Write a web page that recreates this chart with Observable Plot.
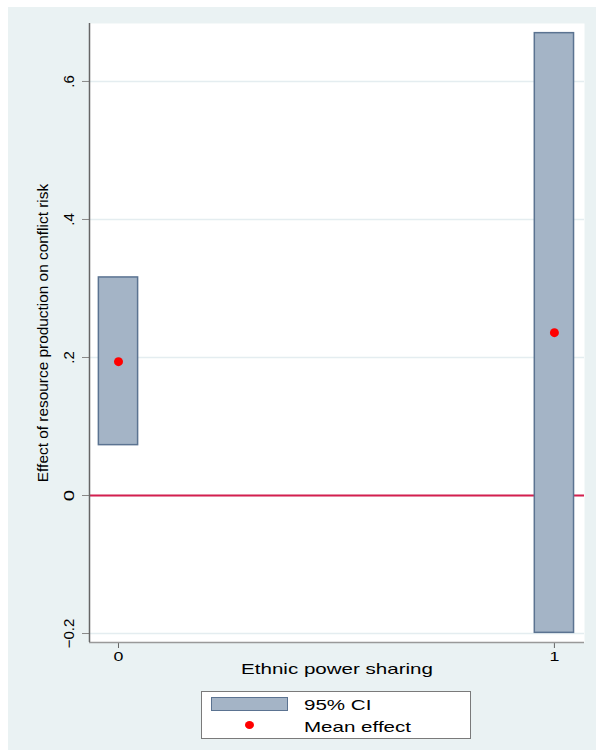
<!DOCTYPE html>
<html><head><meta charset="utf-8">
<script src="https://cdn.jsdelivr.net/npm/d3@7"></script>
<script src="https://cdn.jsdelivr.net/npm/@observablehq/plot@0.6"></script>
<style>
body{margin:0;background:#fff;font-family:"Liberation Sans",Arial,sans-serif;}
#wrap{position:relative;width:596px;height:754px;overflow:hidden;}
#bg{position:absolute;left:8px;top:7px;width:588px;height:743px;background:#eaf2f3;}
#chart{position:absolute;left:0;top:0;}
#legend{position:absolute;left:201px;top:691px;width:270px;height:48px;box-sizing:border-box;border:1.5px solid #7a7a7a;background:#fff;}
#legend .sw{position:absolute;left:8.5px;top:4.5px;width:77px;height:14px;box-sizing:border-box;background:#a4b4c6;border:1px solid #5b7391;}
#legend .dot{position:absolute;width:9px;height:8px;border-radius:50%;background:#ff0000;}
#legend .lt{position:absolute;left:101.5px;font-size:15px;line-height:15px;color:#000;white-space:nowrap;transform-origin:0 50%;}
</style>
</head><body>
<div id="wrap"><div id="bg"></div><div id="chart"></div><div id="legend"></div></div>
<script>
// ---- data ----
const groups = [0, 1];
const ciLow = [0.073, -0.199];
const ciHigh = [0.316, 0.670];
const means = [0.194, 0.236];
const yTicks = [-0.2, 0, 0.2, 0.4, 0.6];
const xTicks = [0, 1];
const xLabel = "Ethnic power sharing";
const yLabel = "Effect of resource production on conflict risk";
const legendLabels = ["95% CI", "Mean effect"];

const xDomain = [-0.0665, 1.069];
const yDomain = [-0.213, 0.684];
const hw = 0.045;
const stretch = 1.37;

const rows = groups.map((g, i) => ({g, lo: ciLow[i], hi: ciHigh[i], m: means[i]}));
const fmt = d => d === 0 ? "0" : d3.format(".1f")(d).replace(/^(-?)0\./, "$1.");

const plot = Plot.plot({
  width: 596, height: 690,
  marginLeft: 89, marginRight: 12, marginTop: 23, marginBottom: 48,
  style: {background: "transparent", fontFamily: "Liberation Sans, Arial, sans-serif", color: "#000", overflow: "visible"},
  x: {domain: xDomain},
  y: {domain: yDomain},
  marks: [
    Plot.frame({fill: "#fff"}),
    Plot.gridY(yTicks, {stroke: "#e4edf0", strokeOpacity: 1, strokeWidth: 1.5}),
    Plot.ruleY([0], {stroke: "#d41f4f", strokeWidth: 2}),
    Plot.rect(rows, {x1: d => d.g - hw, x2: d => d.g + hw, y1: "lo", y2: "hi", fill: "#a4b4c6", stroke: "#5b7391", strokeWidth: 1.5}),
    Plot.dot(rows, {x: "g", y: "m", r: 4.5, fill: "#ff0000", stroke: null}),
    Plot.axisY(yTicks, {anchor: "left", tickSize: 7, tickPadding: 9, tickRotate: -90, tickFormat: fmt, fontSize: 15, stroke: "#888", fill: "#000", label: null}),
    Plot.axisX(xTicks, {anchor: "bottom", tickSize: 6, tickPadding: 3, fontSize: 13, tickFormat: d => String(d), stroke: "#666", fill: "#000", label: null}),
    Plot.ruleY([yDomain[0]], {stroke: "#999", strokeWidth: 1.5}),
    Plot.ruleX([xDomain[0]], {stroke: "#666", strokeWidth: 1.5}),
    Plot.text([yLabel], {frameAnchor: "left", textAnchor: "middle", rotate: -90, dx: -46, fontSize: 15.4, fill: "#000", text: d => d}),
    Plot.text([xLabel], {frameAnchor: "bottom", dy: 31, fontSize: 15, fill: "#000", text: d => d})
  ]
});
document.getElementById("chart").appendChild(plot);

// horizontal stretch of horizontal texts to match reference proportions
d3.select(plot).selectAll("text").each(function() {
  const t = this.textContent;
  if (t === xLabel || xTicks.map(String).includes(t)) {
    const b = this.getBBox();
    const cx = b.x + b.width / 2;
    const ex = this.getAttribute("transform") || "";
    this.setAttribute("transform", `${ex} translate(${cx},0) scale(${stretch},1) translate(${-cx},0)`);
  }
});

// legend
const leg = document.getElementById("legend");
const sw = document.createElement("div"); sw.className = "sw"; leg.appendChild(sw);
const dot = document.createElement("div"); dot.className = "dot"; dot.style.left = "43px"; dot.style.top = "28.5px"; leg.appendChild(dot);
const tops = [11.5, 33.5];
legendLabels.forEach((s, i) => {
  const sp = document.createElement("span");
  sp.className = "lt"; sp.textContent = s;
  sp.style.top = tops[i] + "px";
  sp.style.transform = `translateY(-50%) scaleX(${stretch})`;
  leg.appendChild(sp);
});
</script>
</body></html>
